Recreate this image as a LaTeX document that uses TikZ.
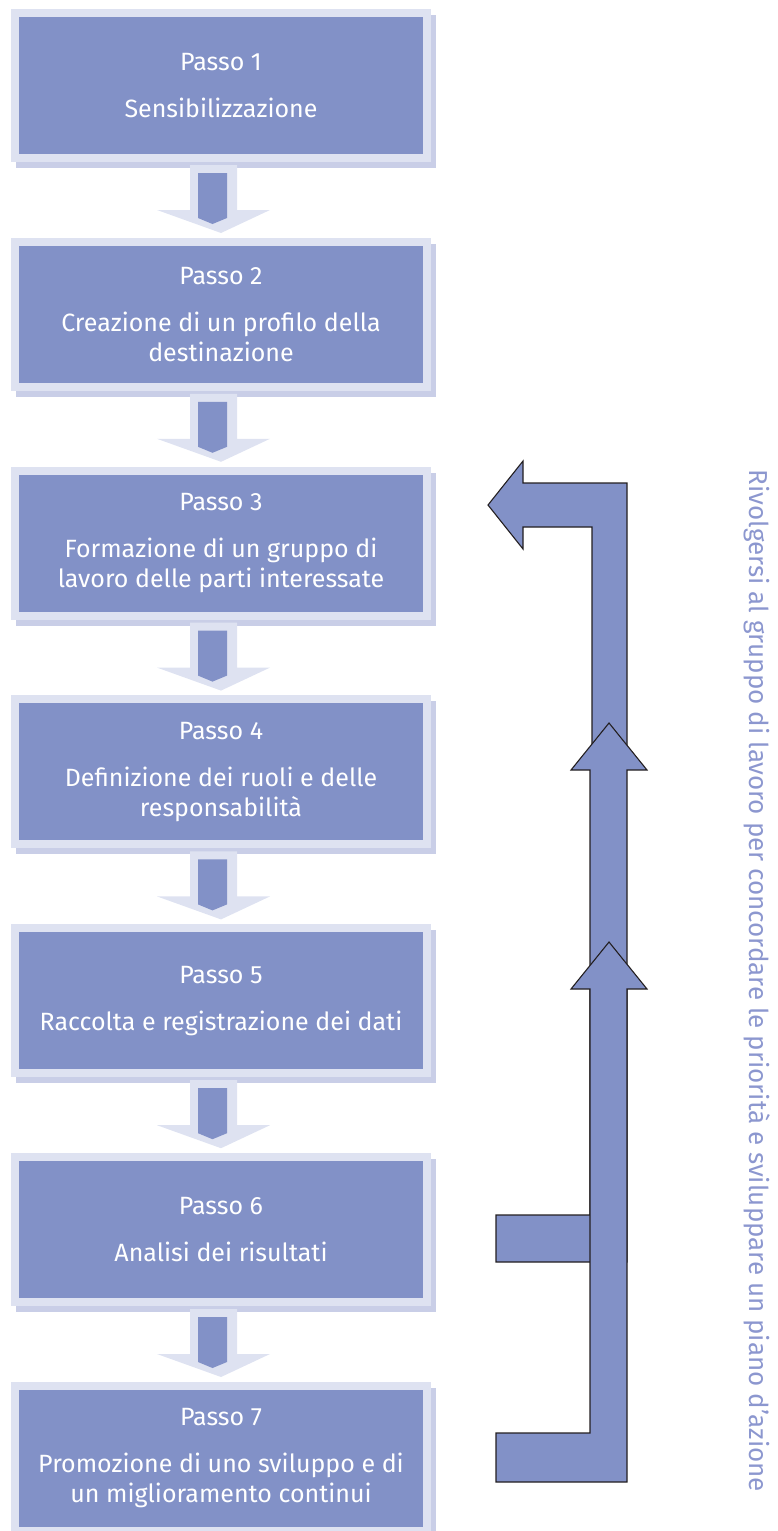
\documentclass[tikz,border=0pt]{standalone}
\usepackage{xcolor}
\usepackage{fontspec}
\setmainfont{Fira Sans}
\usetikzlibrary{positioning, calc, shadows}
\definecolor{stepfill}{HTML}{8291C7}
\definecolor{stepedge}{HTML}{DEE2F1}
\definecolor{stepshade}{HTML}{C9CEE7}
\definecolor{sidetext}{HTML}{8C97CF}
\definecolor{loopedge}{HTML}{231F20}

\tikzset{
  stepbox/.style={draw=stepedge, fill=stepfill, line width=8pt, outer sep=0pt, inner sep=0pt,
    minimum width=412pt, minimum height=145pt, text=white, align=center,
    font=\fontsize{25}{30}\selectfont,
    general shadow={draw=stepshade, fill=stepshade, line width=8pt, shadow xshift=5pt, shadow yshift=-6pt}},
  downarrow/.style={fill=stepedge},
  downshaft/.style={fill=stepfill},
  loopshape/.style={draw=loopedge, fill=stepfill, line width=1.1pt, line join=miter}
}

\begin{document}
\begin{tikzpicture}[x=1pt, y=-1pt]
\useasboundingbox (0,0) rectangle (778,1531);

% the seven steps
\node[stepbox] (p1) at (221,85.5) {Passo 1\\[17pt]Sensibilizzazione};
\node[stepbox, below=83.8pt of p1] (p2) {Passo 2\\[17pt]Creazione di un profilo della\\destinazione};
\node[stepbox, below=83.8pt of p2] (p3) {Passo 3\\[17pt]Formazione di un gruppo di\\lavoro delle parti interessate};
\node[stepbox, below=83.8pt of p3] (p4) {Passo 4\\[17pt]Definizione dei ruoli e delle\\responsabilit\`a};
\node[stepbox, below=83.8pt of p4] (p5) {Passo 5\\[17pt]Raccolta e registrazione dei dati};
\node[stepbox, below=83.8pt of p5] (p6) {Passo 6\\[17pt]Analisi dei risultati};
\node[stepbox, below=83.8pt of p6] (p7) {Passo 7\\[17pt]Promozione di uno sviluppo e di\\un miglioramento continui};

% block arrows between the steps
\foreach \i/\j in {1/2, 2/3, 3/4, 4/5, 5/6, 6/7} {
  \begin{scope}[shift={(p\i.south)}]
    \path[downarrow] (-31,7) -- (16,7) -- (16,52) -- (49,52) -- (0,75) -- (-64,52) -- (-31,52) -- cycle;
    \path[downshaft] (-23,15) -- (6,15) -- (6,60) -- (-8.5,66) -- (-23,60) -- cycle;
  \end{scope}
}

% feedback loop on the right
\draw[loopshape] (488,505) -- (523,461) -- (523,483) -- (627,483) -- (627,760) -- (592,760)
  -- (592,527) -- (523,527) -- (523,549) -- cycle;
\draw[loopshape] (496,1262) -- (627,1262) -- (627,770) -- (647,770) -- (609,723) -- (571,770)
  -- (590,770) -- (590,1215) -- (496,1215) -- cycle;
\draw[loopshape] (496,1482) -- (627,1482) -- (627,989) -- (647,989) -- (609,942) -- (571,989)
  -- (590,989) -- (590,1433) -- (496,1433) -- cycle;

\node[rotate=-90, text=sidetext, font=\fontsize{26}{30}\selectfont] (note) at (757,981)
  {Rivolgersi al gruppo di lavoro per concordare le priorit\`a e sviluppare un piano d'azione};
\end{tikzpicture}
\end{document}
